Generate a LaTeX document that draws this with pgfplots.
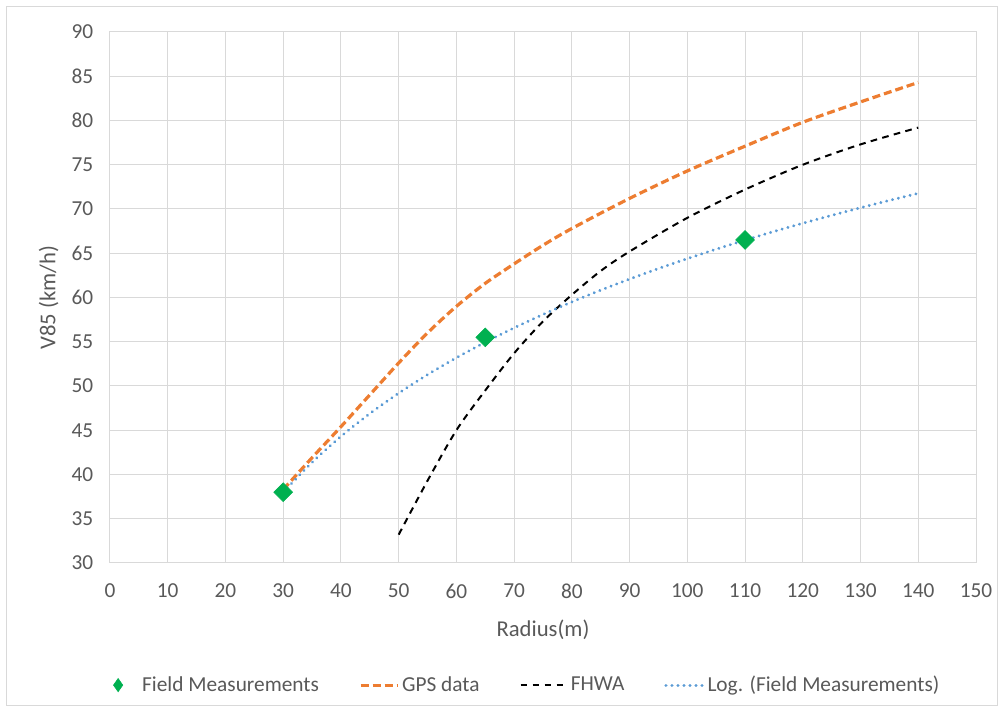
\documentclass[border=0pt]{standalone}
\usepackage{fontspec}
\setmainfont{Carlito}
\usepackage{pgfplots}
\pgfplotsset{compat=1.18}
\definecolor{gridc}{HTML}{D9D9D9}
\definecolor{txt}{HTML}{595959}
\definecolor{orng}{HTML}{ED7D31}
\definecolor{blu}{HTML}{5B9BD5}
\definecolor{grn}{HTML}{00B050}
\begin{document}
\begin{tikzpicture}[x=0.75pt,y=0.75pt]
\useasboundingbox (-110,-150) rectangle (894,563);
\draw[gridc, line width=0.75pt] (-103,-143) rectangle (887,556);
\begin{axis}[
  at={(0,0)}, anchor=south west,
  scale only axis, width=649.5pt, height=398.25pt,
  xmin=0, xmax=150, ymin=30, ymax=90,
  xtick={0,10,...,150}, ytick={30,35,...,90},
  grid=major, major grid style={gridc, line width=0.75pt},
  axis line style={gridc, line width=0.75pt},
  major tick length=0pt,
  tick label style={font=\fontsize{16}{18}\selectfont, text=txt},
  /pgf/number format/assume math mode=true,
  xticklabel style={yshift=-12pt},
  yticklabel style={xshift=-9pt},
  xlabel={Radius(m)}, ylabel={V85 (km/h)},
  label style={font=\fontsize{17}{20}\selectfont, text=txt},
  xlabel style={yshift=-9pt},
  ylabel style={yshift=3pt},
  legend columns=4,
  legend style={at={(0.482,-0.23)}, anchor=center, draw=none, fill=none,
    font=\fontsize{16}{18}\selectfont, text=txt,
    /tikz/every even column/.append style={column sep=28pt}},
  legend cell align=left,
]
\addplot[only marks, mark=square*, mark size=5pt, mark options={rotate=45, fill=grn, draw=grn},
  legend image code/.code={
    \fill[grn] (4pt,5pt) -- (7.5pt,0pt) -- (4pt,-5pt) -- (0.5pt,0pt) -- cycle;
    \path[draw=none] (0pt,0pt) -- (20pt,0pt);}]
 coordinates {(30,38) (65,55.5) (110,66.5)};
\addlegendentry{Field Measurements}
\addplot[orng, line width=2.4pt, dash pattern=on 6pt off 3pt, smooth,
  legend image code/.code={\draw[orng, line width=2.4pt, dash pattern=on 6pt off 3pt] (0pt,0pt) -- (28pt,0pt);}]
 coordinates {(30,38.3) (35,41.9) (40,45.4) (45,49.0) (50,52.6) (55,56.0) (60,59.0) (65,61.6) (70,63.8) (75,65.9) (80,67.8) (90,71.2) (100,74.3) (110,77.1) (120,79.8) (130,82.1) (140,84.3)};
\addlegendentry{GPS data}
\addplot[black, line width=1.5pt, dash pattern=on 5pt off 4pt, smooth,
  legend image code/.code={\draw[black, line width=1.5pt, dash pattern=on 5pt off 4pt] (0pt,0pt) -- (35pt,0pt);}]
 coordinates {(50,33.2) (55,39.3) (60,45.0) (65,49.5) (70,53.7) (75,57.3) (80,60.3) (85,63.0) (90,65.2) (100,69.0) (110,72.2) (120,75.0) (130,77.3) (140,79.2)};
\addlegendentry{FHWA}
\addplot[blu, line width=2.4pt, dash pattern=on 0.01pt off 4.5pt, line cap=round, smooth,
  legend image code/.code={\draw[blu, line width=2.4pt, dash pattern=on 0.01pt off 4.5pt, line cap=round] (0pt,0pt) -- (28pt,0pt);}]
 coordinates {(30,37.99) (35,41.37) (40,44.30) (45,46.88) (50,49.19) (55,51.28) (60,53.19) (65,54.94) (70,56.57) (75,58.08) (80,59.50) (85,60.83) (90,62.08) (95,63.27) (100,64.39) (105,65.46) (110,66.48) (115,67.46) (120,68.39) (125,69.28) (130,70.14) (135,70.97) (140,71.77)};
\addlegendentry{Log. (Field Measurements)}
\end{axis}
\end{tikzpicture}
\end{document}
